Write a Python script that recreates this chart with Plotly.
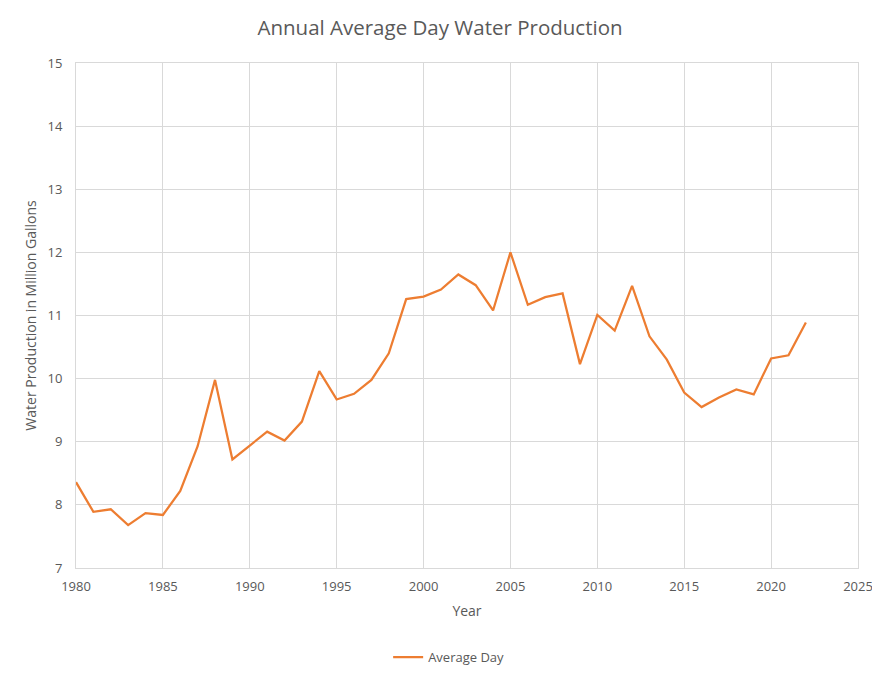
"""Annual average day water production, 1980-2022."""

import plotly.graph_objects as go

years = list(range(1980, 2023))
average_day = [
    8.36, 7.89, 7.93, 7.68, 7.87, 7.84, 8.22, 8.93, 9.98, 8.72,
    8.94, 9.16, 9.02, 9.32, 10.12, 9.67, 9.76, 9.98, 10.40, 11.26,
    11.30, 11.41, 11.65, 11.48, 11.08, 12.00, 11.17, 11.29, 11.35, 10.23,
    11.01, 10.76, 11.47, 10.67, 10.30, 9.78, 9.55, 9.70, 9.83, 9.75,
    10.32, 10.37, 10.89,
]

GREY_TEXT = "#595959"
GRID = "#D9D9D9"
FONT = "Open Sans, Liberation Sans, sans-serif"

fig = go.Figure(go.Scatter(
    x=years,
    y=average_day,
    mode="lines",
    name="Average Day",
    line=dict(color="#ED7D31", width=2.25),
))

axis_common = dict(
    showgrid=True,
    gridcolor=GRID,
    gridwidth=1,
    showline=True,
    linecolor=GRID,
    linewidth=1,
    mirror=True,
    zeroline=False,
    ticks="",
    automargin=False,
    ticklabeloverflow="allow",
    tickfont=dict(size=13, color=GREY_TEXT, family=FONT),
)

# page body has an 8px margin all round, keep the figure inside the window
fig.update_layout(
    width=864,
    height=663,
    margin=dict(l=68, r=14, t=55, b=103),
    paper_bgcolor="white",
    plot_bgcolor="white",
    font=dict(family=FONT, color=GREY_TEXT),
    title=dict(
        text="Annual Average Day Water Production",
        x=0.5,
        xanchor="center",
        y=0.970,
        yanchor="middle",
        font=dict(size=20.5, color=GREY_TEXT, family=FONT),
    ),
    xaxis=dict(
        range=[1980, 2025],
        dtick=5,
        ticklabelstandoff=6,
        title=dict(text="Year", font=dict(size=14, color=GREY_TEXT), standoff=12),
        **axis_common,
    ),
    yaxis=dict(
        range=[7, 15],
        dtick=1,
        ticklabelstandoff=10,
        title=dict(text="Water Production in Million Gallons",
                   font=dict(size=14, color=GREY_TEXT), standoff=7),
        **axis_common,
    ),
    showlegend=True,
    legend=dict(
        orientation="h",
        xref="container",
        yref="container",
        x=0.510,
        xanchor="center",
        y=0.021,
        yanchor="middle",
        font=dict(size=13, color=GREY_TEXT, family=FONT),
    ),
)

fig.write_html("out.html")
